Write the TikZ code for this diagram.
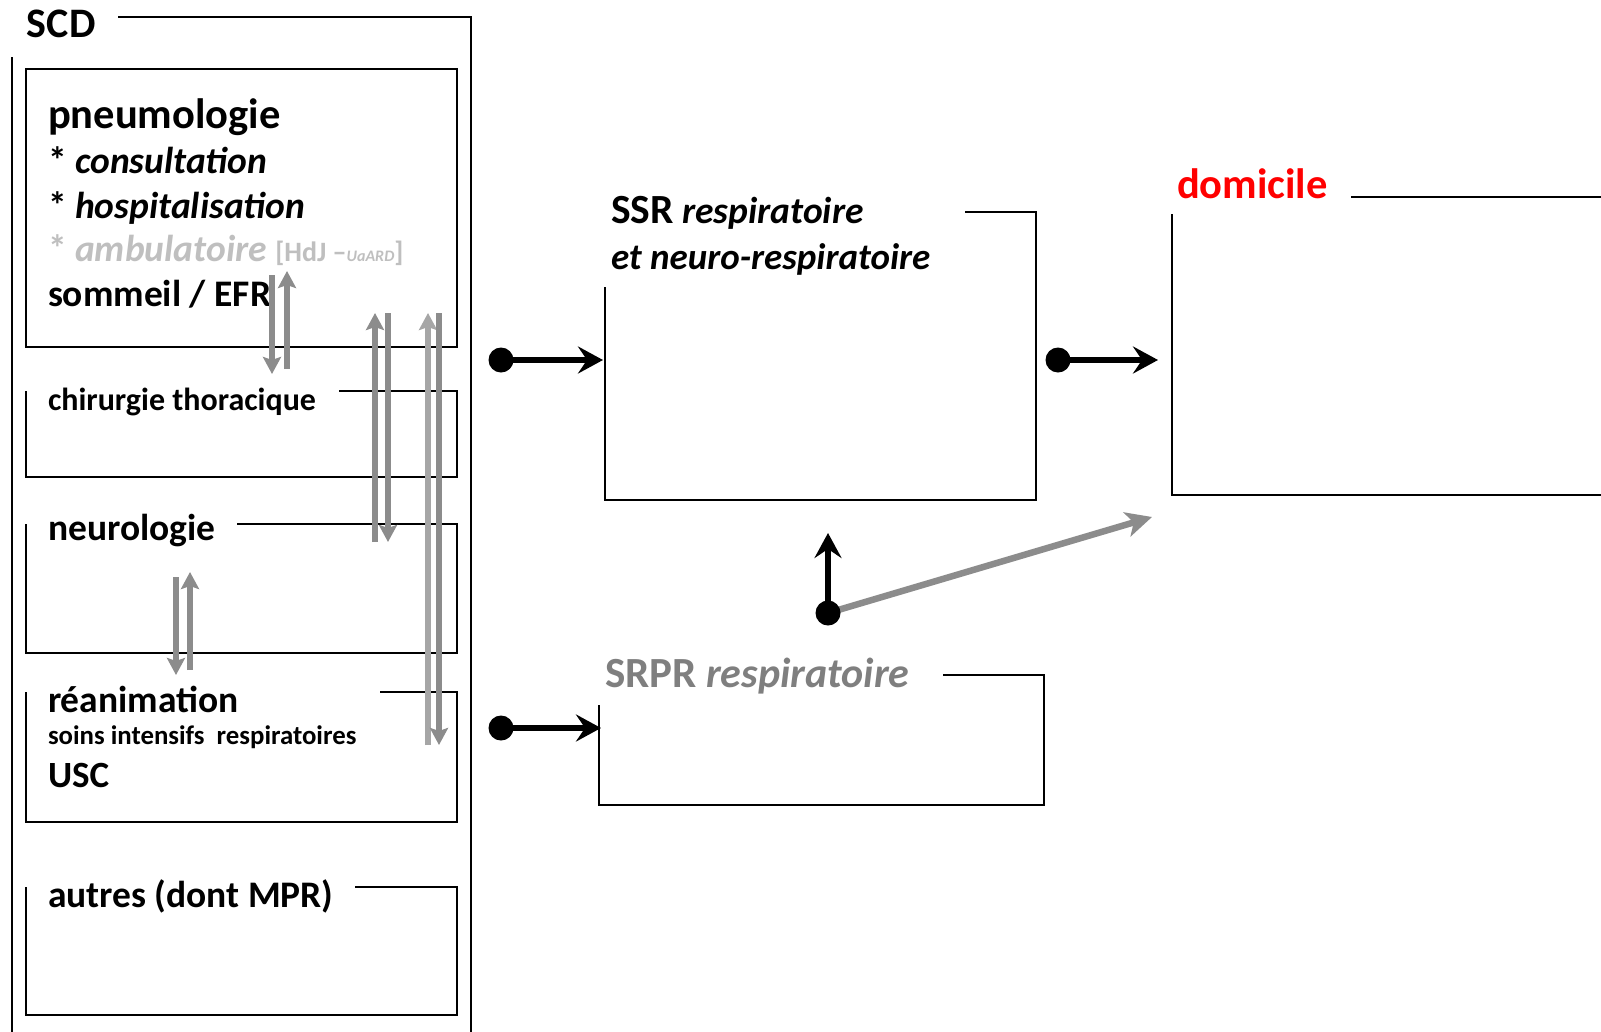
\documentclass[tikz,border=0pt]{standalone}
\usepackage{fontspec}
\setmainfont{Carlito}
\usetikzlibrary{arrows.meta}
\definecolor{arrgray}{HTML}{8C8C8C}
\definecolor{arrlight}{HTML}{A6A6A6}
\definecolor{ambgray}{HTML}{BFBFBF}
\definecolor{srprgray}{HTML}{7F7F7F}
\definecolor{domred}{HTML}{FF0000}
\newcommand{\fsz}[1]{\fontsize{#1}{#1}\selectfont}
\begin{document}
\begin{tikzpicture}[x=1pt,y=-1pt,
  frame/.style={line width=2pt,black},
  lbl/.style={anchor=base west,inner sep=0pt,outer sep=0pt,font=\bfseries},
  dotn/.style={circle,fill=black,minimum size=25pt,inner sep=0pt},
  blackarrow/.style={line width=6.5pt,black,-{Stealth[length=25pt,width=27pt,inset=9pt]}},
  grayarrow/.style={line width=5.5pt,arrgray,-{Stealth[length=17pt,width=18pt,inset=3pt]}},
  lightarrow/.style={line width=5.5pt,arrlight,-{Stealth[length=17pt,width=18pt,inset=3pt]}},
  diagarrow/.style={line width=6.5pt,arrgray,-{Stealth[length=26pt,width=25pt,inset=7pt]}}]
\useasboundingbox (0,0) rectangle (1601,1031);
\fill[white] (0,0) rectangle (1601,1031);

% SCD outer frame
\node[lbl,font=\bfseries\fsz{42}] (scd) at (27,37) {SCD};
\draw[frame] (118,17) -- (471,17) -- (471,1035);
\draw[frame] (12,57) -- (12,1035);

% pneumologie
\draw[frame] (26,69) rectangle (457,347);
\node[lbl,font=\bfseries\fsz{42.5}] (pneumo) at (48,128) {pneumologie};
\node[lbl,font=\bfseries\fsz{37.5}] (consult) at (48,173) {* \textit{consultation}};
\node[lbl,font=\bfseries\fsz{37.5}] (hospit) at (48,218) {* \textit{hospitalisation}};
\node[lbl,font=\bfseries\fsz{37.5},text=ambgray] (ambu) at (48,261) {* \textit{ambulatoire} {\fsz{28}[HdJ –{\fsz{16}\textit{UaARD}}]}};
\node[lbl,font=\bfseries\fsz{37.5}] (sommeil) at (48,306) {sommeil / EFR};

% chirurgie thoracique
\draw[frame] (339,391) -- (457,391) -- (457,477) -- (26,477) -- (26,391);
\node[lbl,font=\bfseries\fsz{32}] (chir) at (48,410) {chirurgie thoracique};

% neurologie
\draw[frame] (237,524) -- (457,524) -- (457,653) -- (26,653) -- (26,524);
\node[lbl,font=\bfseries\fsz{37.5}] (neuro) at (48,540) {neurologie};

% reanimation
\draw[frame] (380,692) -- (457,692) -- (457,822) -- (26,822) -- (26,692);
\node[lbl,font=\bfseries\fsz{37.5}] (rea) at (48,712) {réanimation};
\node[lbl,font=\bfseries\fsz{26.8}] (soins) at (48,744) {soins intensifs\ \ respiratoires};
\node[lbl,font=\bfseries\fsz{37}] (usc) at (48,787) {USC};

% autres
\draw[frame] (355,887) -- (457,887) -- (457,1015) -- (26,1015) -- (26,887);
\node[lbl,font=\bfseries\fsz{37.5}] (autres) at (48,907) {autres (dont MPR)};

% SSR
\draw[frame] (965,212) -- (1036,212) -- (1036,500) -- (605,500) -- (605,287);
\node[lbl,font=\bfseries\fsz{37.5}] (ssr1) at (611,223) {{\fsz{41.5}SSR} \textit{respiratoire}};
\node[lbl,font=\bfseries\fsz{37}] (ssr2) at (611,269) {\textit{et neuro-respiratoire}};

% SRPR
\draw[frame] (943,675) -- (1044,675) -- (1044,805) -- (599,805) -- (599,705);
\node[lbl,font=\bfseries\fsz{42},text=srprgray] (srpr) at (605,687) {{\fsz{43}SRPR} \textit{respiratoire}};

% domicile
\draw[frame] (1351,197) -- (1605,197);
\draw[frame] (1172,214) -- (1172,495) -- (1605,495);
\node[lbl,font=\bfseries\fsz{42.5},text=domred] (dom) at (1177,198) {domicile};

% coordinates
\coordinate (ssrIn) at (603,360);
\coordinate (domIn) at (1158,360);
\coordinate (srprIn) at (601,728);
\coordinate (ssrBot) at (828,533);
\coordinate (domBot) at (1152,517);

% gray arrows inside SCD
\coordinate (a1s) at (272,275); \coordinate (a1e) at (272,374);
\coordinate (a2s) at (287,369); \coordinate (a2e) at (287,271);
\coordinate (b1s) at (375,542); \coordinate (b1e) at (375,313);
\coordinate (b2s) at (388,313); \coordinate (b2e) at (388,542);
\coordinate (c1s) at (428,745); \coordinate (c1e) at (428,313);
\coordinate (c2s) at (439,313); \coordinate (c2e) at (439,745);
\coordinate (d1s) at (176,577); \coordinate (d1e) at (176,675);
\coordinate (d2s) at (190,670); \coordinate (d2e) at (190,572);
\draw[grayarrow] (a1s) -- (a1e);
\draw[grayarrow] (a2s) -- (a2e);
\draw[grayarrow] (b1s) -- (b1e);
\draw[grayarrow] (b2s) -- (b2e);
\draw[lightarrow] (c1s) -- (c1e);
\draw[grayarrow] (c2s) -- (c2e);
\draw[grayarrow] (d1s) -- (d1e);
\draw[grayarrow] (d2s) -- (d2e);

% dots and black arrows
\coordinate (dot4c) at (828,613);
\draw[diagarrow] (dot4c) -- (domBot);
\node[dotn] (dot1) at (501,360) {};
\node[dotn] (dot2) at (1058,360) {};
\node[dotn] (dot3) at (501,728) {};
\node[dotn] (dot4) at (dot4c) {};
\draw[blackarrow] (dot1.center) -- (ssrIn);
\draw[blackarrow] (dot2.center) -- (domIn);
\draw[blackarrow] (dot3.center) -- (srprIn);
\draw[blackarrow] (dot4.center) -- (ssrBot);
\end{tikzpicture}
\end{document}
